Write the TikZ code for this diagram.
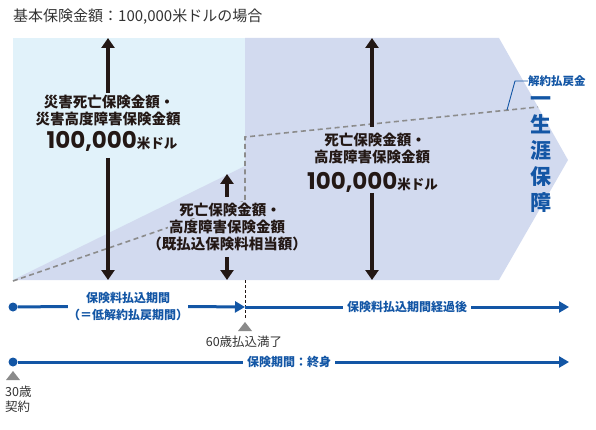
\documentclass[tikz,border=0pt]{standalone}
\usepackage{fontspec}
\setmainfont{Noto Sans CJK JP}
\newfontfamily\numfont{Poppins}
\usetikzlibrary{arrows.meta}
\definecolor{skyfill}{HTML}{E1F2FA}
\definecolor{lavfill}{HTML}{D2DAEF}
\definecolor{bluec}{HTML}{1356A5}
\definecolor{inkc}{HTML}{231815}
\definecolor{dashc}{HTML}{8C8C8C}
\definecolor{trigc}{HTML}{8A8A8A}
\definecolor{greyt}{HTML}{333333}
\begin{document}
\begin{tikzpicture}[x=1pt,y=-1pt,
  lbl/.style={font=\fontsize{14.5}{16}\selectfont\bfseries, text=inkc, inner sep=0pt},
  midlbl/.style={lbl, fill=lavfill, inner xsep=1pt, inner ysep=1.5pt},
  blbl/.style={font=\fontsize{12}{17}\selectfont\bfseries, text=bluec, inner sep=0pt, align=center},
  ttxt/.style={font=\fontsize{12.5}{14}\selectfont, text=greyt, inner sep=0pt},
  karrow/.style={draw=inkc, line width=3.5pt, -{Triangle[width=13pt,length=10pt]}},
  barrow/.style={draw=bluec, line width=3pt, -{Triangle[width=11pt,length=10pt]}},
  bline/.style={draw=bluec, line width=3pt},
  bdot/.style={circle, fill=bluec, minimum size=9pt, inner sep=0pt},
  dashline/.style={draw=dashc, line width=1.6pt, dash pattern=on 5pt off 3.5pt},
  marker/.style={fill=trigc}]
\useasboundingbox (0,0) rectangle (596,430);
% title
\node[font=\fontsize{15}{16}\selectfont, text=greyt, anchor=west, inner sep=0pt] (title) at (13,17) {基本保険金額：100,000米ドルの場合};
% areas
\fill[skyfill] (13,38) rectangle (245,280);
\fill[lavfill] (13,280) -- (245,166) -- (245,280) -- cycle;
\fill[lavfill] (245,38) -- (499,38) -- (568,160) -- (499,280) -- (245,280) -- cycle;
% surrender value dashed line
\coordinate (d0) at (13,281);
\coordinate (d1) at (245,201);
\coordinate (d2) at (245,137);
\coordinate (d3) at (538,107);
\draw[dashline] (d0) -- (d1) -- (d2) -- (d3);
% left labels
\node[lbl] (l1) at (109,102) {災害死亡保険金額・};
\node[lbl] (l2) at (108,119) {災害高度障害保険金額};
\node[lbl, anchor=base] (l3) at (112,148.5) {{\numfont\fontsize{23}{24}\selectfont 100,000}{\fontsize{13.5}{14}\selectfont 米ドル}};
\coordinate (la) at (108,93);
\coordinate (lat) at (108,38);
\coordinate (lb) at (108,158);
\coordinate (lbt) at (108,280);
\draw[karrow] (la) -- (lat);
\draw[karrow] (lb) -- (lbt);
% middle labels
\node[midlbl] (m1) at (230,210) {死亡保険金額・};
\node[midlbl] (m2) at (227,227) {高度障害保険金額};
\node[midlbl] (m3) at (227,244) {（既払込保険料相当額）};
\coordinate (ma) at (227,197);
\coordinate (mat) at (227,174);
\coordinate (mb) at (227,257);
\coordinate (mbt) at (227,280);
\draw[karrow] (ma) -- (mat);
\draw[karrow] (mb) -- (mbt);
% right labels
\node[lbl] (r1) at (375,140) {死亡保険金額・};
\node[lbl] (r2) at (372,157) {高度障害保険金額};
\node[lbl, anchor=base] (r3) at (372.5,189.5) {{\numfont\fontsize{23}{24}\selectfont 100,000}{\fontsize{13.5}{14}\selectfont 米ドル}};
\coordinate (ra) at (372,127);
\coordinate (rat) at (372,38);
\coordinate (rb) at (372,193);
\coordinate (rbt) at (372,280);
\draw[karrow] (ra) -- (rat);
\draw[karrow] (rb) -- (rbt);
% surrender value label
\node[font=\fontsize{11.5}{12}\selectfont\bfseries, text=bluec, anchor=west, inner sep=0pt] (kl) at (528,81) {解約払戻金};
\coordinate (kp) at (507,110);
\coordinate (kq) at (515,81);
\draw[bluec, line width=0.9pt] (kp) -- (kq) -- (kl.west);
% lifetime
\node[font=\fontsize{21}{26}\selectfont\bfseries, text=bluec, align=center, inner sep=0pt] (life) at (541,155) {一\\生\\涯\\保\\障};
% timeline separator
\coordinate (s0) at (245,280);
\coordinate (s1) at (245,318);
\draw[inkc, line width=0.8pt, dash pattern=on 3pt off 2pt] (s0) -- (s1);
% timeline 1
\node[bdot] (dotA) at (13,307) {};
\node[blbl] (tA) at (128,306.5) {保険料払込期間\\（＝低解約払戻期間）};
\coordinate (p60) at (245,307);
\node[blbl, inner xsep=4pt] (tB) at (407,307) {保険料払込期間経過後};
\coordinate (endA) at (569,307);
\draw[bline] (dotA) -- (tA.west);
\draw[barrow] (tA.east) -- (p60);
\draw[bline] (p60) -- (tB.west);
\draw[barrow] (tB.east) -- (endA);
% timeline 2
\node[bdot] (dotB) at (13,362) {};
\node[blbl, inner xsep=4pt] (tC) at (289,362) {保険期間：終身};
\coordinate (endB) at (569,362);
\draw[bline] (dotB) -- (tC.west);
\draw[barrow] (tC.east) -- (endB);
% markers
\fill[marker] (238,331) -- (245,322) -- (252,331) -- cycle;
\node[ttxt] (t60) at (244,342) {60歳払込満了};
\fill[marker] (6,380) -- (13,371) -- (20,380) -- cycle;
\node[ttxt, anchor=west] (t30a) at (5,392) {30歳};
\node[ttxt, anchor=west] (t30b) at (5,407) {契約};
\end{tikzpicture}
\end{document}
